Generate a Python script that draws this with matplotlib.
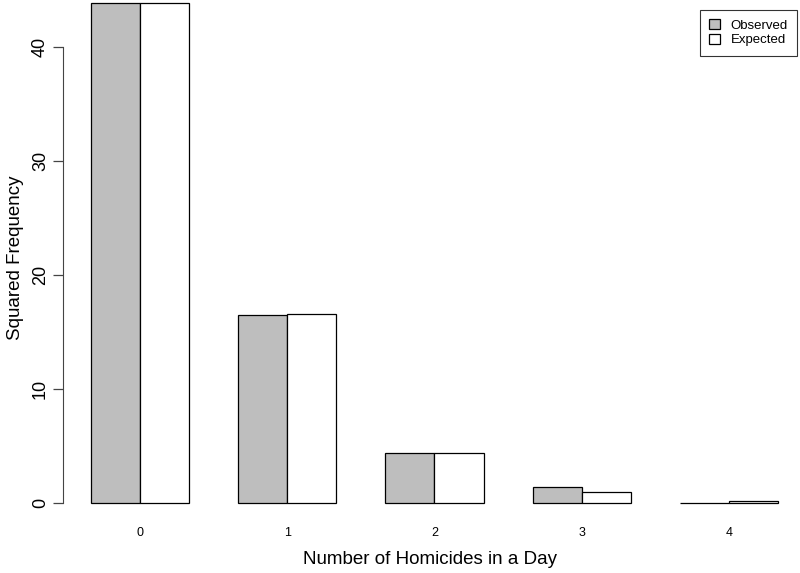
import numpy as np
import matplotlib
matplotlib.use('Agg')
import matplotlib.pyplot as plt

# --- Data ---
homicides = ['0', '1', '2', '3', '4']
observed = [43.86, 16.49, 4.42, 1.40, 0.0]
expected = [43.86, 16.58, 4.40, 0.96, 0.17]
y_ticks = [0, 10, 20, 30, 40]

plt.rcParams['font.family'] = ['Liberation Sans', 'DejaVu Sans']

W, H = 800, 573
fig = plt.figure(figsize=(8, 5.73), dpi=100)
# axes placed in pixel coords (left 63, top 0, right 797, bottom 515)
ax = fig.add_axes([63 / W, (H - 515) / H, (797 - 63) / W, 515 / H])

# R barplot style: space=c(0,1), width 1
group_left = np.arange(len(homicides)) * 3 + 1
ax.bar(group_left + 0.5, observed, width=1, color='#bebebe', edgecolor='black',
       linewidth=0.9, label='Observed', clip_on=False)
ax.bar(group_left + 1.5, expected, width=1, color='white', edgecolor='black',
       linewidth=0.9, label='Expected', clip_on=False)

px_per_x = (778 - 91) / 14.0
ax.set_xlim(1 - 28 / px_per_x, 15 + 19 / px_per_x)
px_per_y = (503 - 47) / 40.0
ax.set_ylim(-12 / px_per_y, 503 / px_per_y)

ax.set_xticks(group_left + 1)
ax.set_xticklabels(homicides, fontsize=9)
ax.tick_params(axis='x', length=0, pad=9)
ax.set_yticks(y_ticks)
ax.set_yticklabels([str(t) for t in y_ticks], fontsize=13, rotation=90, va='center')
ax.tick_params(axis='y', length=7, width=0.9, pad=3, color='#444444')

for s in ['top', 'right', 'bottom']:
    ax.spines[s].set_visible(False)
ax.spines['left'].set_bounds(0, 40)
ax.spines['left'].set_color('#444444')

ax.set_xlabel('Number of Homicides in a Day', fontsize=13.5, labelpad=8)
ax.set_ylabel('Squared Frequency', fontsize=13.5, labelpad=6)

leg = ax.legend(loc='upper right', bbox_to_anchor=(1.0, (515 - 10) / 515),
                borderaxespad=0, fontsize=9.5, frameon=True, fancybox=False,
                edgecolor='black', handlelength=0.8, handleheight=0.8,
                borderpad=0.7, labelspacing=0.15, handletextpad=0.8)
leg.get_frame().set_linewidth(0.8)

fig.savefig('out.png', dpi=100)
